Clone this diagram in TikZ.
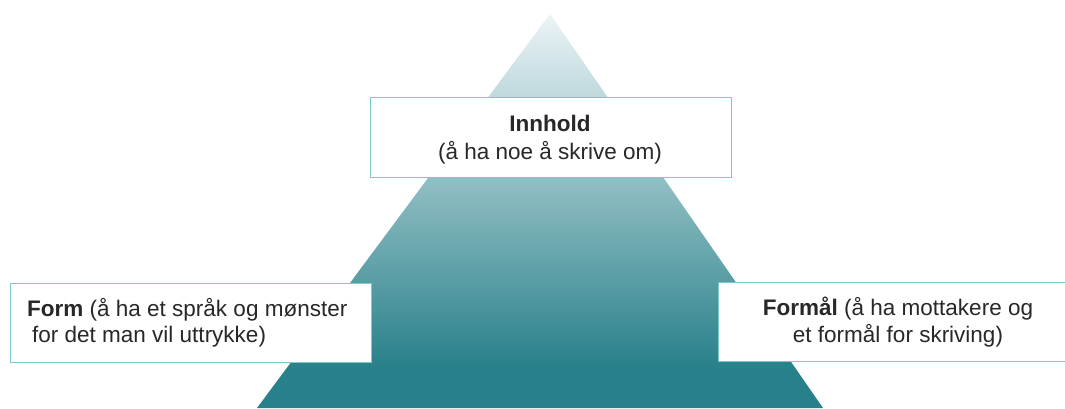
\documentclass[tikz,border=0pt]{standalone}
\usepackage{fontspec}
\setmainfont{Liberation Sans}
\definecolor{pyrlight}{RGB}{236,244,246}
\definecolor{pyrteal}{RGB}{40,128,138}
\definecolor{boxline}{RGB}{126,200,200}
\definecolor{txt}{RGB}{40,40,40}
\pgfdeclareverticalshading{pyrshade}{100bp}{color(0bp)=(pyrteal); color(25bp)=(pyrteal); color(30bp)=(pyrteal); color(75bp)=(pyrlight); color(100bp)=(pyrlight)}
\begin{document}
\begin{tikzpicture}[x=1pt,y=-1pt,
  infobox/.style={draw=boxline, line width=1pt, fill=white, rectangle, inner sep=0pt},
  lbl/.style={inner sep=0pt, text=txt, font=\fontsize{22.5}{27}\selectfont}]
\useasboundingbox (0,0) rectangle (1065,408);
% pyramid
\coordinate (apex) at (550,14);
\coordinate (bl) at (257,408);
\coordinate (br) at (823,408);
\shade[shading=pyrshade] (apex) -- (br) -- (bl) -- cycle;
% boxes
\node[infobox, minimum width=361, minimum height=80] (inn) at (550.5,137) {};
\node[infobox, minimum width=361, minimum height=79] (form) at (190.5,322.5) {};
\node[infobox, minimum width=362, minimum height=79] (formal) at (899,321.5) {};
% texts
\node[lbl, anchor=base] (inn1) at (550,131) {\bfseries Innhold};
\node[lbl, anchor=base] (inn2) at (550,159) {(å ha noe å skrive om)};
\node[lbl, anchor=base west] (form1) at (27,316) {\textbf{Form} (å ha et språk og mønster};
\node[lbl, anchor=base west] (form2) at (32,342) {for det man vil uttrykke)};
\node[lbl, anchor=base] (formal1) at (898,315) {\textbf{Formål} (å ha mottakere og};
\node[lbl, anchor=base] (formal2) at (898,342) {et formål for skriving)};
\end{tikzpicture}
\end{document}
